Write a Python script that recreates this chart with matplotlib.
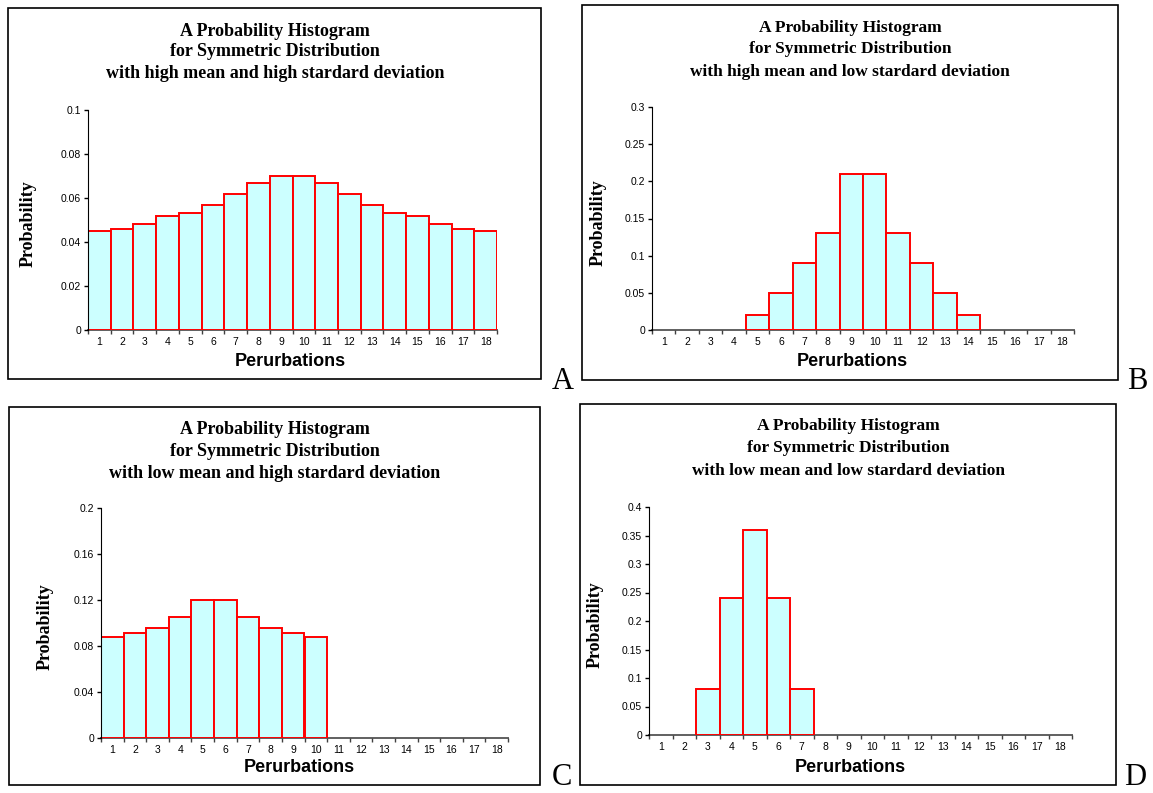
import matplotlib
matplotlib.use("Agg")
import matplotlib.pyplot as plt
from matplotlib.patches import Rectangle
from matplotlib.ticker import FuncFormatter, FixedLocator

# Data
perturbations = list(range(1, 19))
tick_labels = [str(p) for p in perturbations]

prob_a = [0.045, 0.046, 0.048, 0.052, 0.053, 0.057, 0.062, 0.067, 0.070,
          0.070, 0.067, 0.062, 0.057, 0.053, 0.052, 0.048, 0.046, 0.045]
prob_b = [0, 0, 0, 0, 0.02, 0.05, 0.09, 0.13, 0.21,
          0.21, 0.13, 0.09, 0.05, 0.02, 0, 0, 0, 0]
prob_c = [0.088, 0.091, 0.096, 0.105, 0.12, 0.12, 0.105, 0.096, 0.091,
          0.088, 0, 0, 0, 0, 0, 0, 0, 0]
prob_d = [0, 0, 0.08, 0.24, 0.36, 0.24, 0.08, 0, 0,
          0, 0, 0, 0, 0, 0, 0, 0, 0]

title_lines = ["A Probability Histogram", "for Symmetric Distribution"]
subtitles = {
    "A": "with high mean and high stardard deviation",
    "B": "with high mean and low stardard deviation",
    "C": "with low mean and high stardard deviation",
    "D": "with low mean and low stardard deviation",
}

W, H = 1153, 793
fig = plt.figure(figsize=(W / 100, H / 100), dpi=100)
fig.patch.set_facecolor("white")

serif = "Liberation Serif"
sans = "Liberation Sans"


def fx(x):
    return x / W


def fy(y):
    return 1 - y / H


# panel layout in pixels: box (l, t, r, b), axes (l, t, r, b), title centre/lines, labels
panels = [
    dict(key="A", data=prob_a, ymax=0.1, step=0.02, box=(8, 8, 541, 379), ax=(88, 110, 497, 330),
         tx=275, ty=(31, 52, 74), tsize=13, ylx=28, xlx=290, xly=362, letter=(563, 389)),
    dict(key="B", data=prob_b, ymax=0.3, step=0.05, box=(582, 5, 1118, 380), ax=(652, 107, 1074, 330),
         tx=850, ty=(28, 49, 72), tsize=12.5, ylx=598, xlx=852, xly=362, letter=(1137, 389)),
    dict(key="C", data=prob_c, ymax=0.2, step=0.04, box=(9, 407, 540, 785), ax=(101, 508, 508, 738),
         tx=275, ty=(429, 451, 474), tsize=13, ylx=45, xlx=299, xly=767, letter=(562, 785)),
    dict(key="D", data=prob_d, ymax=0.4, step=0.05, box=(580, 404, 1116, 785), ax=(649, 507, 1072, 735),
         tx=848, ty=(426, 448, 471), tsize=12.5, ylx=595, xlx=850, xly=767, letter=(1135, 785)),
]

for p in panels:
    bl, bt, br, bb = p["box"]
    fig.patches.append(Rectangle((fx(bl), fy(bb)), fx(br - bl), (bb - bt) / H,
                                 transform=fig.transFigure, fill=False,
                                 edgecolor="black", linewidth=1.2))

    al, at, ar, ab = p["ax"]
    ax = fig.add_axes([fx(al), fy(ab), fx(ar - al), (ab - at) / H])
    vals = p["data"]
    edges = ["red" if v > 0 else "none" for v in vals]
    ax.bar(perturbations, vals, width=1.0, color="#CCFFFF", edgecolor=edges, linewidth=1.4, zorder=2)

    ax.set_xlim(0.5, 18.5)
    ax.set_ylim(0, p["ymax"])
    nticks = int(round(p["ymax"] / p["step"]))
    ax.set_yticks([i * p["step"] for i in range(nticks + 1)])
    ax.yaxis.set_major_formatter(FuncFormatter(lambda v, pos: f"{v:g}"))

    ax.xaxis.set_major_locator(FixedLocator([i + 0.5 for i in range(19)]))
    ax.xaxis.set_minor_locator(FixedLocator(perturbations))
    ax.set_xticklabels([], minor=False)
    ax.set_xticklabels(tick_labels, minor=True)
    ax.tick_params(axis="x", which="major", direction="out", length=3, width=1, color="#404040")
    ax.tick_params(axis="x", which="minor", length=0, pad=5, labelsize=7.5)
    ax.tick_params(axis="y", direction="out", length=3, width=1, labelsize=7.5, pad=2)
    for lab in ax.get_xticklabels(minor=True) + ax.get_yticklabels():
        lab.set_fontfamily(sans)

    for s in ["top", "right"]:
        ax.spines[s].set_visible(False)
    ax.spines["left"].set_color("black")
    ax.spines["bottom"].set_color("#606060")
    ax.spines["bottom"].set_linewidth(1.4)
    ax.spines["bottom"].set_zorder(1)
    ax.patch.set_alpha(0)

    # titles
    lines = title_lines + [subtitles[p["key"]]]
    for line, y in zip(lines, p["ty"]):
        fig.text(fx(p["tx"]), fy(y), line, ha="center", va="center",
                 fontsize=p["tsize"], fontweight="bold", family=serif)

    fig.text(fx(p["ylx"]), fy((at + ab) / 2 + 4), "Probability", rotation=90, ha="center", va="center",
             fontsize=13, fontweight="bold", family=serif)
    fig.text(fx(p["xlx"]), fy(p["xly"]), "Perurbations", ha="center", va="center",
             fontsize=13, fontweight="bold", family=sans)

    lx, ly = p["letter"]
    fig.text(fx(lx), fy(ly), p["key"], ha="center", va="baseline", fontsize=22, family=serif)

fig.savefig("out.png", dpi=100, facecolor="white")
